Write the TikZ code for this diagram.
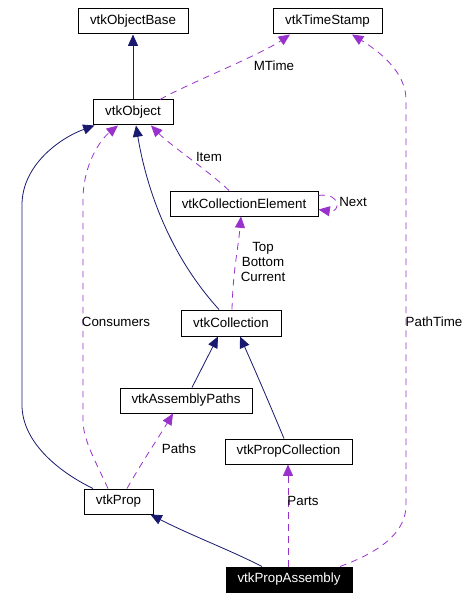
\documentclass[tikz,border=0pt]{standalone}
\usepackage{fontspec}
\setmainfont{Liberation Sans}
\usetikzlibrary{arrows.meta,calc}
\definecolor{navyc}{RGB}{25,25,112}
\definecolor{orchid}{RGB}{153,50,204}
\begin{document}
\begin{tikzpicture}[x=0.75pt,y=-0.75pt,
  cls/.style={draw=black, line width=0.75pt, fill=white, inner sep=0pt, minimum height=18.75pt, font=\fontsize{10}{11}\selectfont},
  inh/.style={draw=navyc, line width=0.6pt, -{Triangle[length=8.5pt,width=7.5pt]}},
  use/.style={draw=orchid, line width=0.6pt, dash pattern=on 5pt off 4pt, -{Triangle[length=8.5pt,width=7.5pt]}},
  lbl/.style={font=\fontsize{10}{11}\selectfont, inner sep=0pt, align=center}
]
\fill[white] (0,0) rectangle (471,599);
\useasboundingbox (0,0) rectangle (471,599);

% classes
\node[cls, minimum width=82.5pt] (base) at (133,21.5) {vtkObjectBase};
\node[cls, minimum width=81.75pt] (ts) at (327.5,21.5) {vtkTimeStamp};
\node[cls, minimum width=60pt] (obj) at (133,112.5) {vtkObject};
\node[cls, minimum width=111pt] (ce) at (244,203.5) {vtkCollectionElement};
\node[cls, minimum width=75pt, minimum height=19.5pt] (col) at (231,323) {vtkCollection};
\node[cls, minimum width=99pt] (ap) at (186,400.5) {vtkAssemblyPaths};
\node[cls, minimum width=95.25pt] (pc) at (288.5,451.5) {vtkPropCollection};
\node[cls, minimum width=51.75pt] (prop) at (118.5,501.5) {vtkProp};
\node[cls, minimum width=94.5pt, fill=black, text=white] (pa) at (289,579.5) {vtkPropAssembly};

% inheritance edges
\draw[inh] (obj.north) -- (base.south);
\draw[inh] ($(prop.north)+(-25.5,0)$) .. controls (55,470) and (22,440) .. (22,405)
  -- (22,205) .. controls (22,165) and (60,138) .. ($(obj.south west)+(2,0)$);
\draw[inh] ($(col.north)+(-12,0)$) .. controls (165,250) and (145,180) .. ($(obj.south)+(3,0)$);
\draw[inh] ($(ap.north)+(6,0)$) -- ($(col.south)+(-13,0)$);
\draw[inh] ($(pc.north)+(-4.5,0)$) .. controls (270,405) and (255,370) .. ($(col.south)+(9,0)$);
\draw[inh] ($(pa.north)+(-27,0)$) .. controls (230,550) and (190,535) .. ($(prop.south east)+(-3,0)$);

% usage edges
\draw[use] ($(obj.north)+(27,0)$) .. controls (185,85) and (260,55) .. ($(ts.south)+(-37.5,0)$);
\draw[use] ($(pa.north)+(51,0)$) .. controls (385,550) and (406,530) .. (406,505)
  -- (406,100) .. controls (406,75) and (385,55) .. ($(ts.south)+(24.5,0)$);
\draw[use] ($(prop.north)+(-10.5,0)$) .. controls (95,460) and (83,440) .. (83,420)
  -- (83,200) .. controls (83,165) and (100,140) .. ($(obj.south)+(-15,0)$);
\draw[use] ($(ce.north)+(-15,0)$) .. controls (210,172) and (170,145) .. ($(obj.south)+(18,0)$);
\draw[use] ($(col.north)+(1,0)$) .. controls (233,270) and (238,250) .. ($(ce.south)+(-3,0)$);
\draw[use] ($(ce.east)+(0,-8)$) .. controls (341,192) and (341,213) .. ($(ce.east)+(0,6)$);
\draw[use] ($(prop.north)+(8.5,0)$) .. controls (142,462) and (157,440) .. ($(ap.south)+(-13,0)$);
\draw[use] ($(pa.north)+(-1,0)$) -- ($(pc.south)+(-0.5,0)$);

% labels
\node[lbl] (lmtime) at (274,65.5) {MTime};
\node[lbl] (litem) at (209,157) {Item};
\node[lbl] (lnext) at (353,201.5) {Next};
\node[lbl] (ltbc) at (263,262) {Top\\Bottom\\Current};
\node[lbl] (lcons) at (116,321.5) {Consumers};
\node[lbl] (lpt) at (434,321.5) {PathTime};
\node[lbl] (lpaths) at (179,449) {Paths};
\node[lbl] (lparts) at (303,501) {Parts};
\end{tikzpicture}
\end{document}
